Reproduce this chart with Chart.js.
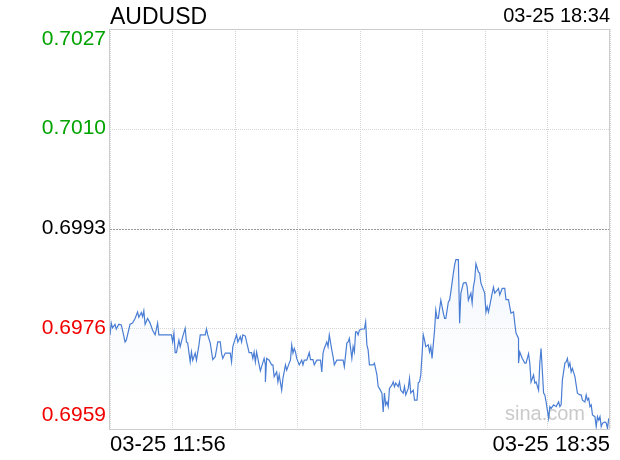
<!DOCTYPE html>
<html lang="en">
<head>
    <meta charset="UTF-8">
    <title>AUDUSD</title>
    <script src="https://cdn.jsdelivr.net/npm/chart.js@4.4.0/dist/chart.umd.min.js"></script>
    <style>
        body {
            margin: 0;
            background: #ffffff;
        }

        #chart {
            display: block;
        }
    </style>
</head>
<body>
    <canvas id="chart" width="620" height="460"></canvas>

    <script>
        const title = 'AUDUSD';
        const stamp = '03-25 18:34';
        const xLabels = ['03-25 11:56', '03-25 18:35'];
        const sessionMinutes = 399;
        const prevClose = 0.6993;
        const yMin = 0.6959;
        const yMax = 0.7027;

        // minutes since 11:56
        const minutes = [
            0, 1, 2, 4, 5, 7, 9, 10, 12, 13, 16, 18, 20, 22, 23, 25, 26, 27, 28, 30, 32, 34, 36, 38, 39, 41, 49, 50, 51, 52,
            53, 55, 56, 58, 60, 61, 62, 64, 65, 66, 68, 69, 71, 72, 76, 77, 78, 80, 82, 84, 86, 88, 89, 90, 92, 96, 97, 98,
            100, 101, 102, 104, 105, 106, 108, 109, 111, 113, 114, 115, 116, 117, 119, 120, 121, 123, 124, 124, 125, 127,
            129, 130, 131, 133, 134, 135, 137, 138, 139, 140, 141, 143, 144, 145, 146, 147, 148, 149, 151, 153, 154, 155,
            157, 159, 160, 162, 163, 165, 168, 169, 170, 171, 173, 174, 175, 177, 178, 179, 181, 186, 187, 189, 190, 191,
            193, 194, 195, 196, 197, 198, 199,
            201, 203, 204, 205, 206, 207, 210, 211, 213, 214, 215, 217, 218, 219, 220, 221, 222, 223, 225, 226, 227, 228,
            230, 231, 232, 234, 235, 236, 238, 239, 240, 242, 243, 245, 246, 247, 248, 250, 251, 252, 254, 255, 256, 257,
            259, 260, 261, 262, 264, 265, 266, 267, 268, 269, 270, 271, 272, 274, 275, 276, 278, 279, 280, 282, 284, 285,
            286, 288, 289, 290, 291, 292, 294, 295, 296,
            299, 300, 301, 302, 303, 305, 306, 307, 309, 310, 311, 313, 315, 316, 318, 319, 320, 322, 323, 324, 326, 326,
            327, 329, 331, 332, 334, 335, 336, 338, 339, 340, 342, 343, 344, 346, 347, 348, 350, 351, 352, 354, 356, 358,
            359, 360, 361, 363, 364, 365, 366, 367, 368, 369, 371, 372, 373, 375, 376, 377, 379, 380, 381, 382, 383, 384,
            385, 387, 388, 389, 390, 391, 392, 393, 395, 396, 397, 398
        ];

        const prices = [
            0.69750, 0.69770, 0.69762, 0.69768, 0.69760, 0.69768, 0.69767, 0.69758, 0.69738, 0.69741, 0.69768, 0.69770,
            0.69778, 0.69789, 0.69780, 0.69788, 0.69781, 0.69791, 0.69768, 0.69778, 0.69770, 0.69758, 0.69750, 0.69770,
            0.69750, 0.69750, 0.69750, 0.69738, 0.69753, 0.69720, 0.69720, 0.69741, 0.69730, 0.69747, 0.69761, 0.69738,
            0.69736, 0.69704, 0.69721, 0.69707, 0.69719, 0.69707, 0.69733, 0.69750, 0.69750, 0.69760, 0.69750, 0.69736,
            0.69708, 0.69713, 0.69738, 0.69738, 0.69719, 0.69710, 0.69719, 0.69719, 0.69704, 0.69730,
            0.69744, 0.69750, 0.69738, 0.69747, 0.69738, 0.69750, 0.69748, 0.69738, 0.69720, 0.69720, 0.69710, 0.69721,
            0.69704, 0.69721, 0.69699, 0.69689, 0.69696, 0.69710, 0.69699, 0.69670, 0.69710, 0.69707, 0.69699, 0.69699,
            0.69679, 0.69687, 0.69670, 0.69682, 0.69656, 0.69676, 0.69687, 0.69699, 0.69690, 0.69702, 0.69707, 0.69733,
            0.69719, 0.69727, 0.69721, 0.69710, 0.69699, 0.69707, 0.69699, 0.69707, 0.69707, 0.69720, 0.69708, 0.69708,
            0.69699, 0.69707, 0.69707, 0.69687, 0.69719, 0.69727, 0.69738, 0.69730, 0.69750, 0.69724, 0.69713, 0.69699,
            0.69707, 0.69707, 0.69696, 0.69736, 0.69738, 0.69744, 0.69710, 0.69730, 0.69721, 0.69755, 0.69755, 0.69750,
            0.69758,
            0.69760, 0.69760, 0.69772, 0.69733, 0.69724, 0.69699, 0.69699, 0.69702, 0.69682, 0.69662, 0.69659, 0.69651,
            0.69619, 0.69651, 0.69631, 0.69636, 0.69628, 0.69659, 0.69665, 0.69670, 0.69662, 0.69668, 0.69662, 0.69670,
            0.69656, 0.69651, 0.69662, 0.69648, 0.69659, 0.69676, 0.69651, 0.69656, 0.69639, 0.69639, 0.69669, 0.69670,
            0.69682, 0.69750, 0.69741, 0.69730, 0.69733, 0.69721, 0.69730, 0.69710, 0.69758, 0.69792, 0.69778, 0.69778,
            0.69809, 0.69798, 0.69787, 0.69778, 0.69778, 0.69792, 0.69806, 0.69809, 0.69823, 0.69855, 0.69869, 0.69878,
            0.69878, 0.69770, 0.69821, 0.69838, 0.69839, 0.69832, 0.69809, 0.69821, 0.69804, 0.69832, 0.69843, 0.69871,
            0.69857, 0.69855, 0.69838,
            0.69821, 0.69789, 0.69798, 0.69789, 0.69799, 0.69821, 0.69831, 0.69821, 0.69826, 0.69829, 0.69818, 0.69829,
            0.69829, 0.69810, 0.69810, 0.69798, 0.69787, 0.69789, 0.69770, 0.69753, 0.69744, 0.69702, 0.69721, 0.69710,
            0.69702, 0.69702, 0.69718, 0.69702, 0.69670, 0.69682, 0.69668, 0.69670, 0.69656, 0.69702, 0.69727, 0.69651,
            0.69648, 0.69636, 0.69608, 0.69628, 0.69625, 0.69631, 0.69628, 0.69636, 0.69628, 0.69631, 0.69673, 0.69702,
            0.69704, 0.69710, 0.69696, 0.69702, 0.69687, 0.69693, 0.69679, 0.69665, 0.69651, 0.69648, 0.69648, 0.69639,
            0.69636, 0.69648, 0.69639, 0.69642, 0.69628, 0.69631, 0.69614, 0.69611, 0.69594, 0.69611, 0.69605, 0.69611,
            0.69594, 0.69600, 0.69602, 0.69600, 0.69591, 0.69608
        ];

        const FONT = '"Liberation Sans", Arial, Helvetica, sans-serif';

        // text, prev close line, frame
        const decor = {
            id: 'decor',
            beforeDatasetsDraw(chart) {
                const { ctx, chartArea: a, scales: { y } } = chart;
                ctx.save();
                ctx.font = '20px ' + FONT;
                ctx.fillStyle = '#c8c8c8';
                ctx.textAlign = 'right';
                ctx.textBaseline = 'alphabetic';
                ctx.fillText('sina.com', a.right - 25, a.bottom - 9);

                const py = Math.round(y.getPixelForValue(prevClose)) + 0.5;
                ctx.strokeStyle = '#999999';
                ctx.lineWidth = 1;
                ctx.setLineDash([2, 1]);
                ctx.beginPath();
                ctx.moveTo(a.left, py);
                ctx.lineTo(a.right, py);
                ctx.stroke();
                ctx.restore();
            },
            afterDraw(chart) {
                const { ctx, chartArea: a, scales: { y } } = chart;
                ctx.save();
                ctx.strokeStyle = '#cccccc';
                ctx.lineWidth = 1;
                ctx.strokeRect(a.left - 0.5, a.top + 0.5, a.right - a.left, a.bottom - a.top);

                ctx.fillStyle = '#000';
                ctx.textBaseline = 'alphabetic';
                ctx.font = '23px ' + FONT;
                ctx.textAlign = 'left';
                ctx.fillText(title, a.left, 24);
                ctx.font = '20px ' + FONT;
                ctx.textAlign = 'right';
                ctx.fillText(stamp, a.right, 22);

                ctx.font = '21px ' + FONT;
                ctx.textBaseline = 'middle';
                const ticks = y.ticks;
                ticks.forEach((t, i) => {
                    let py = y.getPixelForValue(t.value) - 1;
                    if (i === ticks.length - 1) py = a.top + 10;
                    if (i === 0) py = a.bottom - 14;
                    const v = Number(t.value.toFixed(4));
                    ctx.fillStyle = v > prevClose ? '#00a300' : (v < prevClose ? '#f00000' : '#000');
                    ctx.fillText(v.toFixed(4), a.left - 4, py);
                });

                ctx.fillStyle = '#000';
                ctx.font = '22px ' + FONT;
                ctx.textAlign = 'left';
                ctx.fillText(xLabels[0], a.left, 445);
                ctx.textAlign = 'right';
                ctx.fillText(xLabels[1], a.right, 445);
                ctx.restore();
            }
        };

        const ctx = document.getElementById('chart').getContext('2d');

        new Chart(ctx, {
            type: 'line',
            data: {
                datasets: [{
                    data: minutes.map((m, i) => ({ x: m, y: prices[i] })),
                    borderColor: '#4a7ed4',
                    borderWidth: 1.2,
                    pointRadius: 0,
                    tension: 0,
                    fill: 'start',
                    backgroundColor(c) {
                        const a = c.chart.chartArea;
                        if (!a) return 'rgba(0,0,0,0)';
                        const g = c.chart.ctx.createLinearGradient(0, a.top + 200, 0, a.bottom);
                        g.addColorStop(0, 'rgba(205,222,246,0.45)');
                        g.addColorStop(1, 'rgba(255,255,255,0)');
                        return g;
                    }
                }]
            },
            options: {
                responsive: false,
                devicePixelRatio: 1,
                animation: false,
                layout: {
                    padding: { left: 110, right: 10, top: 29, bottom: 31 }
                },
                plugins: {
                    legend: { display: false },
                    tooltip: { enabled: false }
                },
                scales: {
                    x: {
                        type: 'linear',
                        min: 0,
                        max: sessionMinutes,
                        ticks: { display: false, count: 9 },
                        grid: { color: '#d6d6d6', drawTicks: false },
                        border: { display: false, dash: [1, 1] }
                    },
                    y: {
                        min: yMin,
                        max: yMax,
                        ticks: { display: false, count: 5 },
                        grid: {
                            drawTicks: false,
                            color: c => Math.abs(c.tick.value - prevClose) < 1e-6 ? 'rgba(0,0,0,0)' : '#d6d6d6'
                        },
                        border: { display: false, dash: [1, 1] }
                    }
                }
            },
            plugins: [decor]
        });
    </script>
</body>
</html>
